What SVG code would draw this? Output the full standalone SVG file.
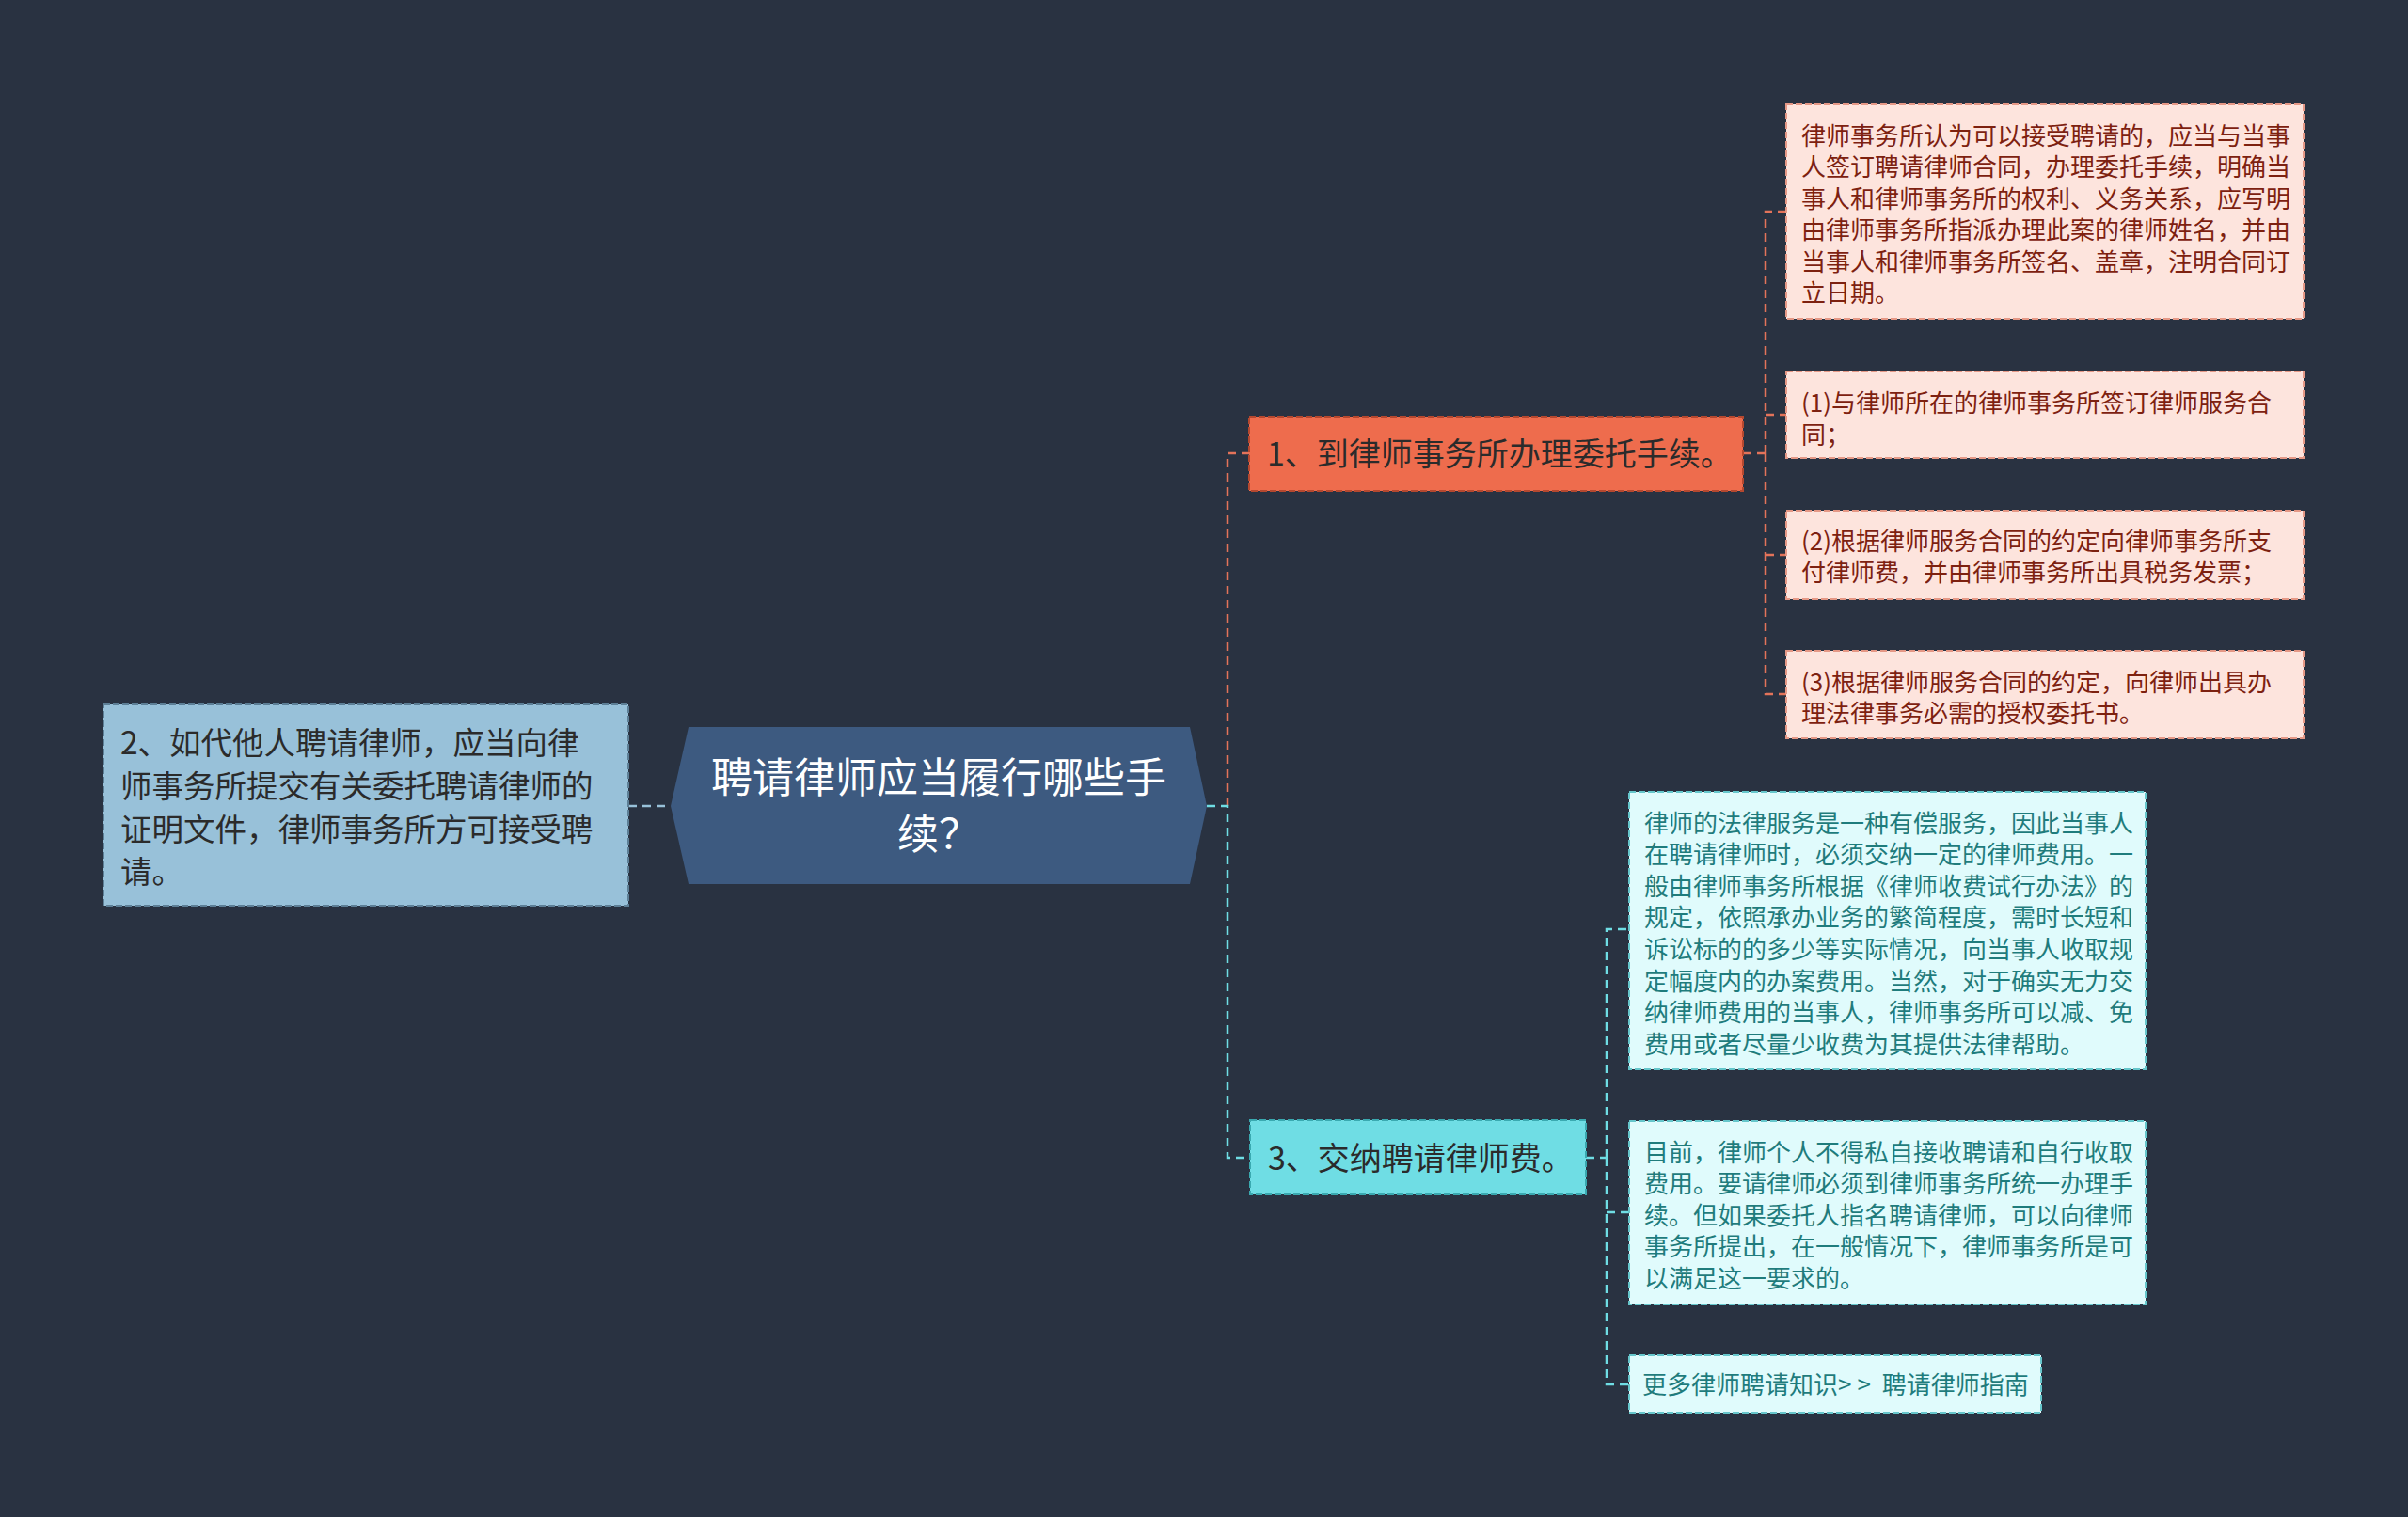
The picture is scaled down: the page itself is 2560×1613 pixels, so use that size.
<svg xmlns="http://www.w3.org/2000/svg" width="2560" height="1613" viewBox="0 0 2560 1613">
<style>
text{font-family:"Noto Sans CJK SC","Noto Sans",sans-serif;dominant-baseline:central}
.edge{fill:none;stroke-width:2.5;stroke-dasharray:9 6}
.er{stroke:#e3735a}
.ec{stroke:#6fdde4}
.eb{stroke:#98c1d9}
.box{stroke-width:2;stroke-dasharray:7 3}
.leafr{fill:#fde4dd;stroke:#e59886}
.leafc{fill:#e0fbfc;stroke:#66c6cb}
.tr{fill:#7d2110;font-size:26px}
.tc{fill:#1f7c7c;font-size:26px}
.main{fill:#2b2b2b;font-size:34px}
</style>
<rect width="2560" height="1613" fill="#293241"/>
<g id="connectors">
<path class="edge eb" d="M668 857H713"/>
<path class="edge er" d="M1305 857V482H1328"/>
<path class="edge ec" d="M1283 857H1305V1231H1329"/>
<path class="edge er" d="M1853 482H1877M1877 482V225H1899M1877 441H1899M1877 482V738H1899M1877 590H1899"/>
<path class="edge ec" d="M1686 1231H1708M1708 1231V988H1732M1708 1231V1472H1732M1708 1289H1732"/>
</g>
<g id="root">
<polygon points="732,773 1265,773 1283,857 1265,940 732,940 713,857" fill="#3d5a80"/>
<text x="998" y="824" text-anchor="middle" fill="#ffffff" font-size="44">聘请律师应当履行哪些手</text>
<text x="998" y="884" text-anchor="middle" fill="#ffffff" font-size="44">续？</text>
</g>
<g id="n2">
<rect class="box" x="110" y="749" width="558" height="214" fill="#98c1d9" stroke="#5d7f96"/>
<text x="128" y="787" fill="#2b2b2b" font-size="33.5">2、如代他人聘请律师，应当向律</text>
<text x="128" y="833" fill="#2b2b2b" font-size="33.5">师事务所提交有关委托聘请律师的</text>
<text x="128" y="879" fill="#2b2b2b" font-size="33.5">证明文件，律师事务所方可接受聘</text>
<text x="128" y="924" fill="#2b2b2b" font-size="33.5">请。</text>
</g>
<g id="n1">
<rect class="box" x="1328" y="443" width="525" height="79" fill="#ee6c4d" stroke="#b5482f"/>
<text class="main" x="1347" y="480" fill="#3a2018">1、到律师事务所办理委托手续。</text>
</g>
<g id="n1a">
<rect class="box leafr" x="1899" y="111" width="550" height="228"/>
<text class="tr" x="1915" y="142">律师事务所认为可以接受聘请的，应当与当事</text>
<text class="tr" x="1915" y="175.5">人签订聘请律师合同，办理委托手续，明确当</text>
<text class="tr" x="1915" y="209">事人和律师事务所的权利、义务关系，应写明</text>
<text class="tr" x="1915" y="242.5">由律师事务所指派办理此案的律师姓名，并由</text>
<text class="tr" x="1915" y="276">当事人和律师事务所签名、盖章，注明合同订</text>
<text class="tr" x="1915" y="309.5">立日期。</text>
</g>
<g id="n1b">
<rect class="box leafr" x="1899" y="395" width="550" height="92"/>
<text class="tr" x="1915" y="426">(1)与律师所在的律师事务所签订律师服务合</text>
<text class="tr" x="1915" y="460">同；</text>
</g>
<g id="n1c">
<rect class="box leafr" x="1899" y="543" width="550" height="94"/>
<text class="tr" x="1915" y="573">(2)根据律师服务合同的约定向律师事务所支</text>
<text class="tr" x="1915" y="606">付律师费，并由律师事务所出具税务发票；</text>
</g>
<g id="n1d">
<rect class="box leafr" x="1899" y="692" width="550" height="93"/>
<text class="tr" x="1915" y="723">(3)根据律师服务合同的约定，向律师出具办</text>
<text class="tr" x="1915" y="756">理法律事务必需的授权委托书。</text>
</g>
<g id="n3">
<rect class="box" x="1329" y="1191" width="357" height="79" fill="#6fdde4" stroke="#3aa9b0"/>
<text class="main" x="1348" y="1229">3、交纳聘请律师费。</text>
</g>
<g id="n3a">
<rect class="box leafc" x="1732" y="842" width="549" height="295"/>
<text class="tc" x="1748" y="873">律师的法律服务是一种有偿服务，因此当事人</text>
<text class="tc" x="1748" y="906.6">在聘请律师时，必须交纳一定的律师费用。一</text>
<text class="tc" x="1748" y="940.2">般由律师事务所根据《律师收费试行办法》的</text>
<text class="tc" x="1748" y="973.8">规定，依照承办业务的繁简程度，需时长短和</text>
<text class="tc" x="1748" y="1007.4">诉讼标的的多少等实际情况，向当事人收取规</text>
<text class="tc" x="1748" y="1041">定幅度内的办案费用。当然，对于确实无力交</text>
<text class="tc" x="1748" y="1074.6">纳律师费用的当事人，律师事务所可以减、免</text>
<text class="tc" x="1748" y="1108.2">费用或者尽量少收费为其提供法律帮助。</text>
</g>
<g id="n3b">
<rect class="box leafc" x="1732" y="1192" width="549" height="195"/>
<text class="tc" x="1748" y="1223">目前，律师个人不得私自接收聘请和自行收取</text>
<text class="tc" x="1748" y="1256.6">费用。要请律师必须到律师事务所统一办理手</text>
<text class="tc" x="1748" y="1290.2">续。但如果委托人指名聘请律师，可以向律师</text>
<text class="tc" x="1748" y="1323.8">事务所提出，在一般情况下，律师事务所是可</text>
<text class="tc" x="1748" y="1357.4">以满足这一要求的。</text>
</g>
<g id="n3c">
<rect class="box leafc" x="1732" y="1441" width="438" height="61"/>
<text class="tc" x="1746" y="1470">更多律师聘请知识<tspan letter-spacing="6">&gt;&gt;</tspan> 聘请律师指南</text>
</g>
</svg>
